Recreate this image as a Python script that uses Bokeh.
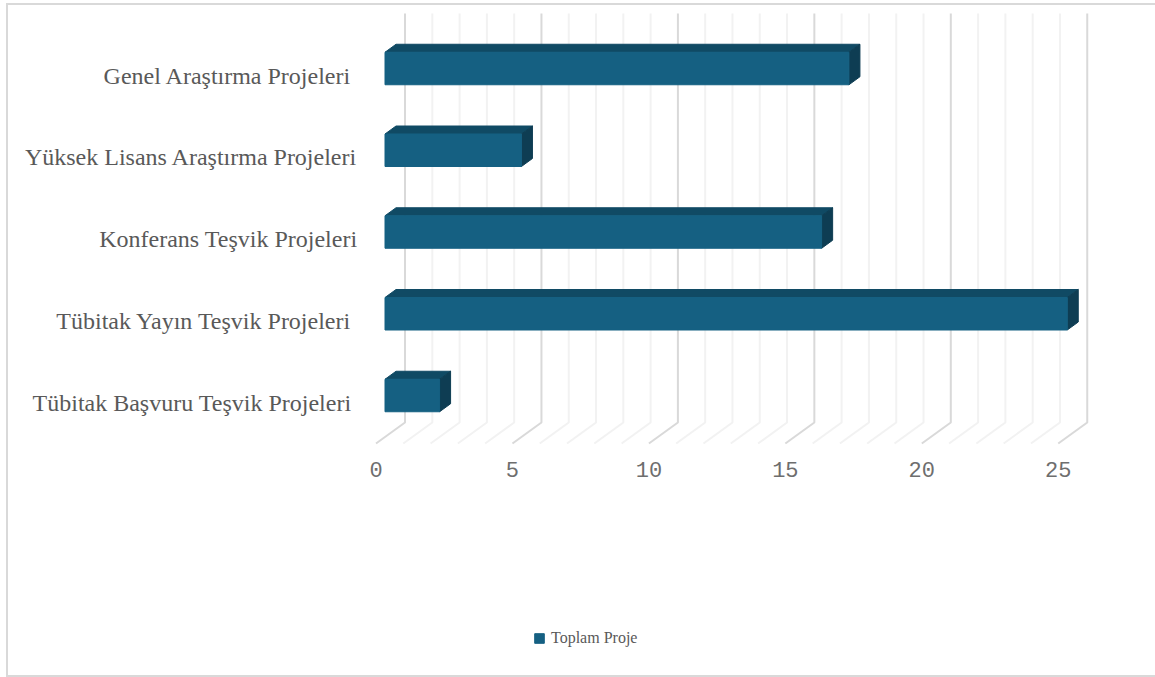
from bokeh.plotting import figure
from bokeh.models import Range1d, LinearAxis, FixedTicker, Legend, LegendItem
from bokeh.embed import file_html
from bokeh.resources import INLINE

categories = ["Tübitak Başvuru Teşvik Projeleri\u00a0", "Tübitak Yayın Teşvik Projeleri\u00a0",
              "Konferans Teşvik Projeleri", "Yüksek Lisans Araştırma Projeleri",
              "Genel Araştırma Projeleri\u00a0"]
values = [2, 25, 16, 5, 17]
series_name = "Toplam Proje"
x_ticks = [0, 5, 10, 15, 20, 25]
grid_steps = list(range(0, 26))

W, H = 1155, 677
OX, OY = 6, 3              # where the outer border starts on the page
BORDER = 2
CX, CY = OX + BORDER, OY + BORDER   # canvas origin on the page
BOX_W, BOX_H = W - CX, H - BORDER - CY   # size handed to the figure
FL = 360                   # frame left edge (page px)
FR = CX + BOX_W + BORDER   # the canvas fills the box plus its borders
FB = CY + BOX_H + 2 * BORDER
PX_X, PX_Y = 27.29, 81.75  # px per data unit
Y0 = 395                   # page px of category 0
BAR_X0, FLOOR_X0 = 384.5, 375.5
BAR_H = 32.5 / PX_Y
DX, DY = 11 / PX_X, 8 / PX_Y
FLOOR_DX = 29 / PX_X
WALL_TOP = (Y0 - 13) / PX_Y
WALL_BOT = (Y0 - 422) / PX_Y
FLOOR_FRONT = (Y0 - 443) / PX_Y
LABEL_SHIFT = 7 / PX_Y
X_LABEL_TOP = 461

FRONT, TOP, SIDE = "#156082", "#104a64", "#0e3d53"
TEXT = "#595959"
MAJOR, MINOR = "#d9d9d9", "#f2f2f2"

y_start, y_end = (Y0 - FB) / PX_Y, (Y0 - CY) / PX_Y
p = figure(width=BOX_W, height=BOX_H, output_backend="svg", toolbar_location=None,
           x_range=Range1d((FL - BAR_X0) / PX_X, (FR - BAR_X0) / PX_X),
           y_range=Range1d(y_start, y_end),
           min_border_left=FL - CX, min_border_right=0, min_border_top=0, min_border_bottom=0,
           x_axis_type=None, y_axis_type=None, outline_line_color=None,
           background_fill_color="white", border_fill_color="white",
           margin=(OY, 0, 0, OX),
           styles={"border-left": f"{BORDER}px solid {MAJOR}", "border-top": f"{BORDER}px solid {MAJOR}",
                   "border-bottom": f"{BORDER}px solid {MAJOR}", "box-sizing": "content-box"})
p.grid.visible = False

p.extra_x_ranges["floor"] = Range1d((FL - FLOOR_X0) / PX_X, (FR - FLOOR_X0) / PX_X)
p.extra_y_ranges["labels"] = Range1d(y_start + LABEL_SHIFT, y_end + LABEL_SHIFT)

for major in (False, True):
    steps = [g for g in grid_steps if (g % 5 == 0) == major]
    p.multi_line(xs=[[g + FLOOR_DX, g + FLOOR_DX, g] for g in steps],
                 ys=[[WALL_TOP, WALL_BOT, FLOOR_FRONT] for g in steps],
                 x_range_name="floor", line_color=MAJOR if major else MINOR, line_width=2)

idx = list(range(len(values)))
tops = [i + BAR_H / 2 for i in idx]
bots = [i - BAR_H / 2 for i in idx]

p.patches(xs=[[0, v, v + DX, DX] for v in values],
          ys=[[t, t, t + DY, t + DY] for t in tops],
          fill_color=TOP, line_color=TOP, line_width=1)
p.patches(xs=[[v, v + DX, v + DX, v] for v in values],
          ys=[[b, b + DY, t + DY, t] for b, t in zip(bots, tops)],
          fill_color=SIDE, line_color=SIDE, line_width=1)
bars = p.hbar(y=idx, left=0, right=values, height=BAR_H,
              fill_color=FRONT, line_color=FRONT, line_width=1)

x_axis = LinearAxis(x_range_name="floor", ticker=FixedTicker(ticks=x_ticks))
x_axis.axis_line_color = None
x_axis.major_tick_line_color = None
x_axis.minor_tick_line_color = None
x_axis.major_tick_out = 0
x_axis.major_tick_in = 0
x_axis.major_label_standoff = X_LABEL_TOP - FB
x_axis.major_label_text_font = "Liberation Mono"
x_axis.major_label_text_font_size = "22px"
x_axis.major_label_text_color = "#6e6e6e"
p.add_layout(x_axis, "below")

y_axis = LinearAxis(y_range_name="labels", ticker=FixedTicker(ticks=idx),
                    major_label_overrides={i: c for i, c in enumerate(categories)})
y_axis.axis_line_color = None
y_axis.major_tick_line_color = None
y_axis.minor_tick_line_color = None
y_axis.major_tick_out = 0
y_axis.major_tick_in = 0
y_axis.major_label_standoff = 3
y_axis.major_label_text_font = "Liberation Serif"
y_axis.major_label_text_font_size = "24px"
y_axis.major_label_text_color = TEXT
p.add_layout(y_axis, "left")

legend = Legend(items=[LegendItem(label=series_name, renderers=[bars])],
                location=(533 - FL, FB - 647), orientation="horizontal",
                border_line_color=None, background_fill_alpha=0,
                padding=0, margin=0, spacing=0,
                glyph_width=12, glyph_height=12, label_height=12, label_standoff=6,
                label_text_font="Liberation Serif", label_text_font_size="16px",
                label_text_color=TEXT)
p.add_layout(legend, "center")

open("out.html", "w").write(file_html(p, INLINE))
